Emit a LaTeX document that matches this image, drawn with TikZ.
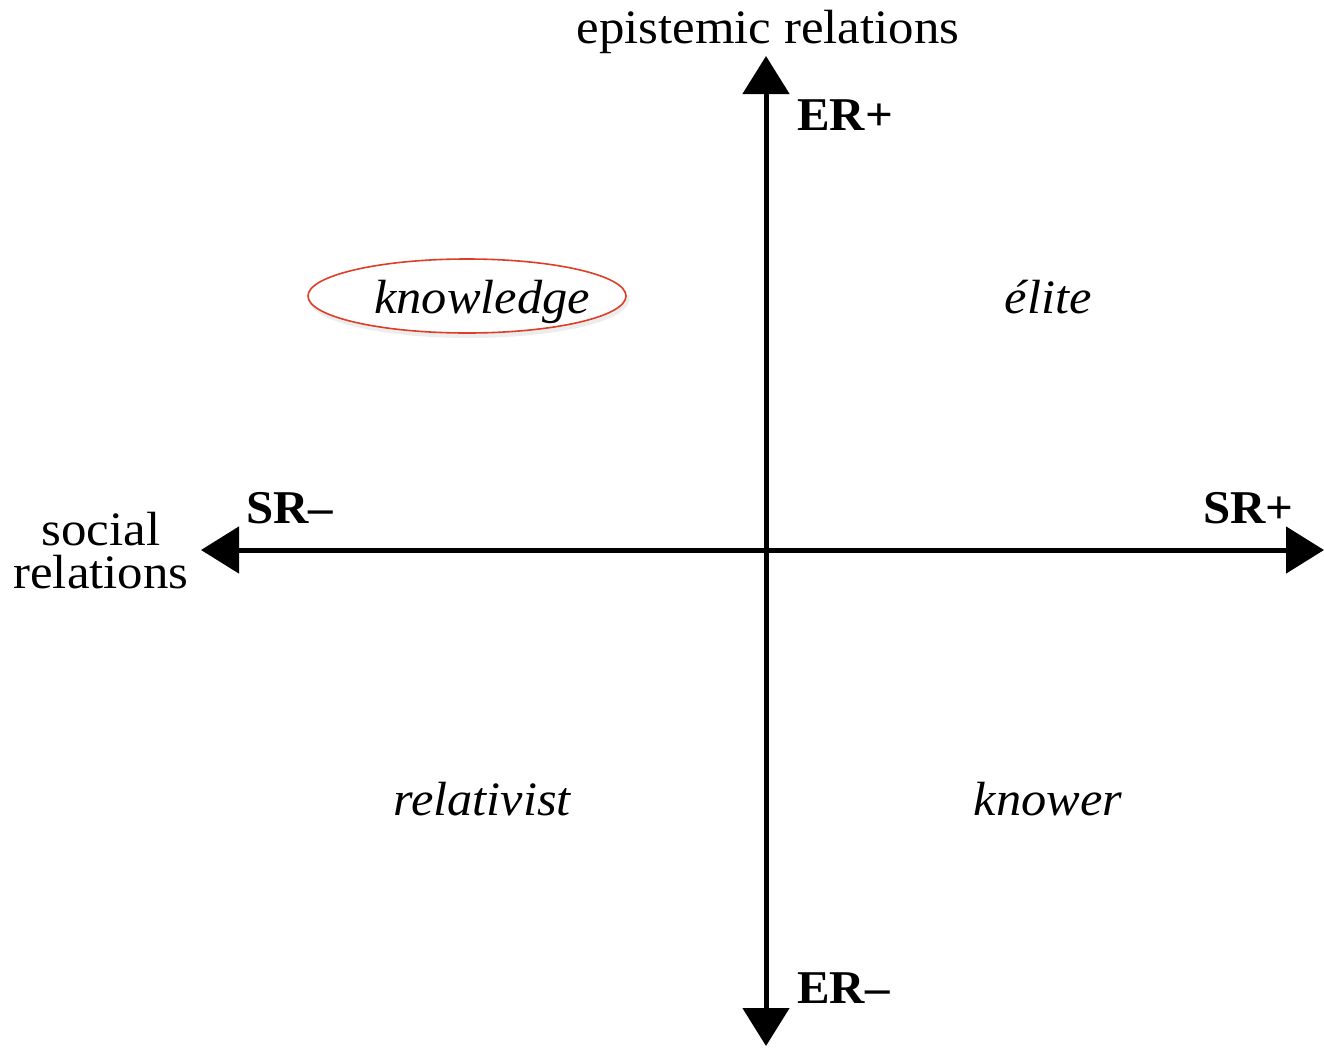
\documentclass[tikz,border=0pt]{standalone}
\usepackage{fontspec}
\setmainfont{Liberation Serif}
\usetikzlibrary{arrows.meta}
\definecolor{ellred}{RGB}{222,62,40}
\begin{document}
\begin{tikzpicture}[x=1pt,y=-1pt,
  axis/.style={line width=5pt,-{Triangle[length=38pt,width=46pt]}},
  lbl/.style={font=\fontsize{48}{43}\selectfont,inner sep=0pt,anchor=base,xscale=1.06},
  bl/.style={font=\fontsize{47}{42}\selectfont\bfseries,inner sep=0pt,anchor=base,xscale=1.04},
  it/.style={font=\fontsize{48}{42}\selectfont\itshape,inner sep=0pt,anchor=base,xscale=1.05}]
\useasboundingbox (0,0) rectangle (1324,1047);
\coordinate (c) at (766,550);
\coordinate (top) at (766,56);
\coordinate (bot) at (766,1046);
\coordinate (lft) at (201,550);
\coordinate (rgt) at (1324,550);
\draw[axis] (c) -- (top);
\draw[axis] (c) -- (bot);
\draw[axis] (c) -- (lft);
\draw[axis] (c) -- (rgt);
\node[lbl] (er) at (768,43) {epistemic relations};
\node[lbl] (sr1) at (101,545) {social};
\node[lbl] (sr2) at (101,588) {relations};
\node[bl,anchor=base west] (erp) at (797,130) {ER+};
\node[bl,anchor=base west] (erm) at (797,1003) {ER–};
\node[bl,anchor=base west] (srm) at (246,523) {SR–};
\node[bl,anchor=base east] (srp) at (1294,523) {SR+};
\fill[black,opacity=0.07] (469,300) ellipse[x radius=160pt,y radius=38pt];
\filldraw[fill=white,draw=ellred,line width=1.6pt] (467,296) ellipse[x radius=159pt,y radius=37pt];
\node[it] (kn) at (482,313) {knowledge};
\node[it] (el) at (1048,313) {élite};
\node[it] (rel) at (482,815) {relativist};
\node[it] (kw) at (1048,815) {knower};
\end{tikzpicture}
\end{document}
